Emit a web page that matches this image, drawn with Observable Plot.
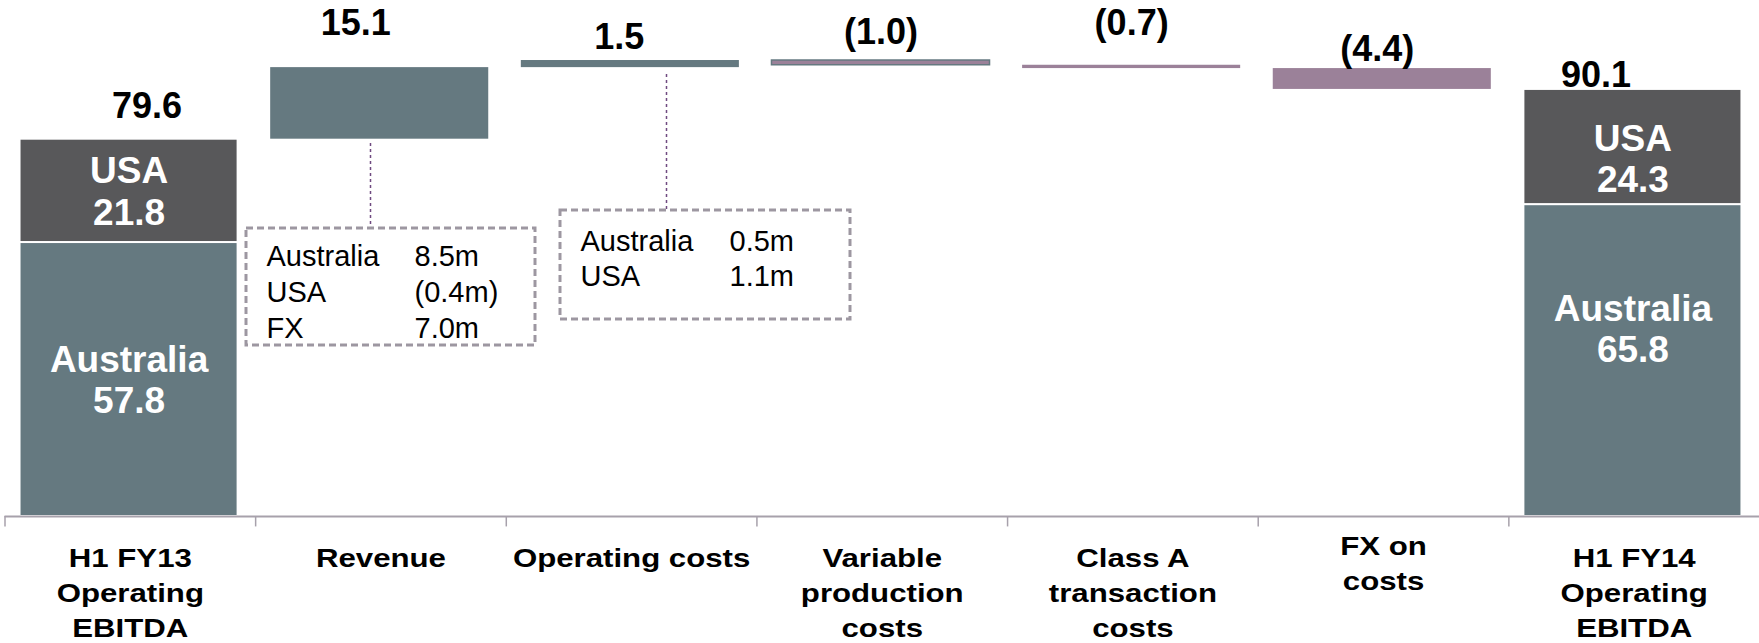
<!DOCTYPE html>
<html><head><meta charset="utf-8">
<script src="https://cdn.jsdelivr.net/npm/d3@7"></script>
<script src="https://cdn.jsdelivr.net/npm/@observablehq/plot@0.6"></script>
<style>body{margin:0;background:#fff}</style>
</head><body><div id="chart"></div>
<script>
// ---------- data ----------
const categories = ["H1 FY13\nOperating\nEBITDA", "Revenue", "Operating costs", "Variable\nproduction\ncosts", "Class A\ntransaction\ncosts", "FX on\ncosts", "H1 FY14\nOperating\nEBITDA"];
const segments = ["Australia", "USA"];
const australia = [57.8, 65.8];      // H1 FY13, H1 FY14
const usa = [21.8, 24.3];            // H1 FY13, H1 FY14
const changes = [15.1, 1.5, -1.0, -0.7, -4.4];
const valueLabels = ["79.6", "15.1", "1.5", "(1.0)", "(0.7)", "(4.4)", "90.1"];
const revenueNotes = [["Australia", "8.5m"], ["USA", "(0.4m)"], ["FX", "7.0m"]];
const opCostNotes = [["Australia", "0.5m"], ["USA", "1.1m"]];

// ---------- styles / layout ----------
const teal = "#657980", dark = "#58585a", mauve = "#9b8199";
const changeFill = [teal, teal, mauve, mauve, mauve];
const changeStroke = ["none", "none", teal, "none", "none"];
const W = 1759, H = 643, baseY = 516, pxPerUnit = 4.74;
const step = (W - 4.5) / 7;
const barLo = 0.06, barHi = 0.93, barMid = (barLo + barHi) / 2;
const topLabelRise = [21, 33, 12, 17, 30, 8, 2];        // px above bar top (baseline)
const topLabelShift = [18, -24, -11, 0, 0, -5, -37];     // px horizontal
const innerShift = [[0, 0], [-32, 11]];                  // px vertical [Australia, USA] per total bar
const xLabelLift = [0, 0, 0, 0, 0, 12, 0];               // px

// ---------- build ----------
const totalIdx = [0, 6];
const totalRows = [];
totalIdx.forEach((ci, k) => {
  totalRows.push({i: ci, seg: segments[0], v: australia[k], y1: 0, y2: australia[k], color: teal, shift: innerShift[k][0]});
  totalRows.push({i: ci, seg: segments[1], v: usa[k], y1: australia[k], y2: australia[k] + usa[k], color: dark, shift: innerShift[k][1]});
});
let run = australia[0] + usa[0];
const stepRows = changes.map((d, k) => {
  const lo = Math.min(run, run + d), hi = Math.max(run, run + d);
  run += d;
  return {i: k + 1, y1: lo, y2: hi, fill: changeFill[k], stroke: changeStroke[k]};
});
const tops = [australia[0] + usa[0], ...stepRows.map(d => d.y2), australia[1] + usa[1]];
const topRows = valueLabels.map((t, i) => ({i, t, top: tops[i]}));

const y = px => (baseY - px) / pxPerUnit;   // helper for annotation placement
const xs = px => (px - 4.5) / step;
const boxes = [
  {x1: xs(246), x2: xs(535), y1: y(345), y2: y(228)},
  {x1: xs(560), x2: xs(850), y1: y(319), y2: y(210)}
];
const connectors = [
  {x: xs(370), y1: y(143), y2: y(228)},
  {x: xs(666), y1: y(74), y2: y(210)}
];
const noteRows = [];
revenueNotes.forEach((r, k) => {
  noteRows.push({x: xs(266), y: y(265 + 36 * k), t: r[0]});
  noteRows.push({x: xs(414), y: y(265 + 36 * k), t: r[1]});
});
opCostNotes.forEach((r, k) => {
  noteRows.push({x: xs(580), y: y(250 + 35 * k), t: r[0]});
  noteRows.push({x: xs(729), y: y(250 + 35 * k), t: r[1]});
});

const chart = Plot.plot({
  width: W, height: H,
  marginLeft: 4.5, marginRight: 0, marginTop: 0, marginBottom: H - baseY,
  x: {type: "linear", domain: [0, 7], axis: null},
  y: {domain: [0, baseY / pxPerUnit], axis: null},
  color: {type: "identity"},
  style: {fontFamily: "'Liberation Sans', Arial, sans-serif", background: "white", color: "black"},
  marks: [
    Plot.rect(totalRows, {x1: d => d.i + barLo, x2: d => d.i + barHi, y1: "y1", y2: "y2", fill: "color", stroke: "white", strokeWidth: 2}),
    Plot.rect(stepRows, {x1: d => d.i + barLo, x2: d => d.i + barHi, y1: "y1", y2: "y2", fill: "fill", stroke: "stroke", strokeWidth: 1.5}),
    Plot.ruleY([0], {x1: 0, x2: 7, stroke: "#a7a1ab", strokeWidth: 2}),
    Plot.ruleX(d3.range(0, 7), {x: d => d, y1: 0, y2: -2.2, stroke: "#a7a1ab", strokeWidth: 1.5}),
    Plot.text(categories, {x: (d, i) => i + 0.5, y: (d, i) => xLabelLift[i] / pxPerUnit, text: d => d, dy: 26, lineAnchor: "top", lineHeight: 1.346, fontSize: 26, fontWeight: "bold", fill: "black"}),
    Plot.text(topRows, {x: d => d.i + barMid + topLabelShift[d.i] / step, y: d => d.top + topLabelRise[d.i] / pxPerUnit, text: "t", lineAnchor: "bottom", fontSize: 36, fontWeight: "bold", fill: "black"}),
    Plot.text(totalRows, {x: d => d.i + barMid, y: d => (d.y1 + d.y2) / 2 - d.shift / pxPerUnit, text: d => d.seg + "\n" + d.v.toFixed(1), lineAnchor: "middle", lineHeight: 1.11, fontSize: 37, fontWeight: "bold", fill: "white"}),
    Plot.ruleX(connectors, {x: "x", y1: "y1", y2: "y2", stroke: "#6f4a80", strokeWidth: 1.5, strokeDasharray: "3,3"}),
    Plot.rect(boxes, {x1: "x1", x2: "x2", y1: "y1", y2: "y2", fill: "none", stroke: "#9d97a1", strokeWidth: 3, strokeDasharray: "7,4"}),
    Plot.text(noteRows, {x: "x", y: "y", text: "t", textAnchor: "start", lineAnchor: "bottom", fontSize: 29, fill: "black"})
  ]
});
// widen the category labels horizontally as in the reference
const catKeys = new Set(categories.map(c => c.replace(/\n/g, "")));
chart.querySelectorAll("text").forEach(t => {
  if (!catKeys.has(t.textContent)) return;
  let tr = t.getAttribute("transform");
  if (!tr) {
    const x = t.getAttribute("x") || 0, yy = t.getAttribute("y") || 0;
    t.removeAttribute("x"); t.removeAttribute("y");
    tr = `translate(${x},${yy})`;
  }
  t.setAttribute("transform", tr + " scale(1.2,1)");
});
document.getElementById("chart").appendChild(chart);
</script>
</body></html>
